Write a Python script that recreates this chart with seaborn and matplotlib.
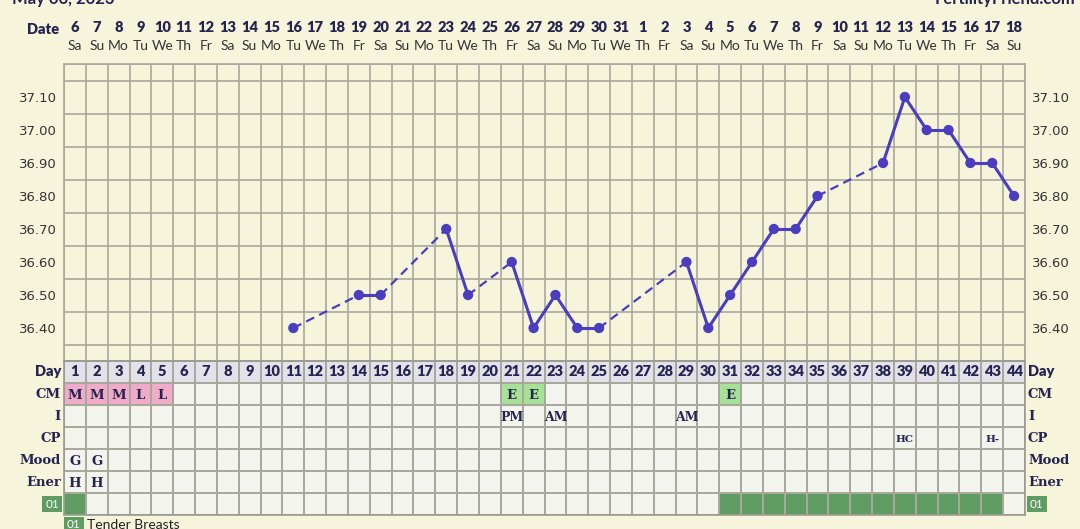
import numpy as np
import pandas as pd
import matplotlib
matplotlib.use('Agg')
import matplotlib.pyplot as plt
import matplotlib.transforms as mtransforms
from matplotlib.colors import ListedColormap
import seaborn as sns

# chart values
dates = [6, 7, 8, 9, 10, 11, 12, 13, 14, 15, 16, 17, 18, 19, 20, 21, 22, 23, 24, 25,
         26, 27, 28, 29, 30, 31, 1, 2, 3, 4, 5, 6, 7, 8, 9, 10, 11, 12, 13, 14, 15, 16, 17, 18]
weekdays = ['Sa', 'Su', 'Mo', 'Tu', 'We', 'Th', 'Fr', 'Sa', 'Su', 'Mo', 'Tu', 'We', 'Th', 'Fr',
            'Sa', 'Su', 'Mo', 'Tu', 'We', 'Th', 'Fr', 'Sa', 'Su', 'Mo', 'Tu', 'We', 'Th', 'Fr',
            'Sa', 'Su', 'Mo', 'Tu', 'We', 'Th', 'Fr', 'Sa', 'Su', 'Mo', 'Tu', 'We', 'Th', 'Fr',
            'Sa', 'Su']
cycle_days = list(range(1, 45))

temp_days = [11, 14, 15, 18, 19, 21, 22, 23, 24, 25, 29, 30, 31, 32, 33, 34, 35, 38, 39, 40, 41, 42, 43, 44]
temps = [36.40, 36.50, 36.50, 36.70, 36.50, 36.60, 36.40, 36.50, 36.40, 36.40, 36.60, 36.40,
         36.50, 36.60, 36.70, 36.70, 36.80, 36.90, 37.10, 37.00, 37.00, 36.90, 36.90, 36.80]
temp_ticks = [36.40, 36.50, 36.60, 36.70, 36.80, 36.90, 37.00, 37.10]

cm_days = [1, 2, 3, 4, 5, 21, 22, 31]
cm_vals = ['M', 'M', 'M', 'L', 'L', 'E', 'E', 'E']
int_days = [21, 23, 29]
int_vals = ['PM', 'AM', 'AM']
cp_days = [39, 43]
cp_vals = ['HC', 'H-']
mood_days = [1, 2]
mood_vals = ['G', 'G']
ener_days = [1, 2]
ener_vals = ['H', 'H']
symptom_days = [1, 31, 32, 33, 34, 35, 36, 37, 38, 39, 40, 41, 42, 43]

row_labels = ['Day', 'CM', 'I', 'CP', 'Mood', 'Ener']

BG = '#f7f4dc'
NAVY = '#25234f'
GRID = '#a9a89c'
LINE = '#4a3dbf'
DARKGREEN = '#5f9c62'

W, H = 1080, 529
fig = plt.figure(figsize=(W / 100, H / 100), dpi=100, facecolor=BG)
sans = 'Lato'
serif = 'DejaVu Serif'

# ---------------- temperature chart ----------------
ax = fig.add_axes([64 / W, 1 - 361 / H, 961 / W, 297 / H])
ax.set_facecolor(BG)
ax.set_xlim(0.5, 44.5)
ax.set_ylim(36.30, 37.20)
ax.set_xticks(np.arange(0.5, 45, 1), minor=True)
ax.set_xticks([])
ax.set_yticks(np.arange(36.30, 37.21, 0.05), minor=True)
ax.set_yticks(temp_ticks)
ax.set_yticklabels([f'{t:.2f}' for t in temp_ticks])
ax.grid(which='minor', color=GRID, linewidth=1.2)
ax.tick_params(which='both', length=0, labelleft=True, labelright=True,
               labelsize=9.5, labelcolor='#333333', pad=5)
for s in ax.spines.values():
    s.set_color(GRID)
    s.set_linewidth(1.2)

# segments: solid between consecutive days, dashed across gaps
rows = []
for i in range(len(temp_days) - 1):
    kind = 'solid' if temp_days[i + 1] - temp_days[i] == 1 else 'gap'
    rows.append((i, kind, temp_days[i], temps[i]))
    rows.append((i, kind, temp_days[i + 1], temps[i + 1]))
seg_df = pd.DataFrame(rows, columns=['seg', 'kind', 'day', 'temp'])
sns.lineplot(data=seg_df[seg_df.kind == 'solid'], x='day', y='temp', units='seg',
             estimator=None, color=LINE, linewidth=2.2, ax=ax, legend=False)
sns.lineplot(data=seg_df[seg_df.kind == 'gap'], x='day', y='temp', units='seg',
             estimator=None, color=LINE, linewidth=1.6, ax=ax, legend=False,
             dashes=False, linestyle=(0, (4, 2.5)))
pts = pd.DataFrame({'day': temp_days, 'temp': temps})
sns.scatterplot(data=pts, x='day', y='temp', color=LINE, s=55, edgecolor='none',
                ax=ax, zorder=5, legend=False)
ax.set_xlabel('')
ax.set_ylabel('')

# date and weekday header
tr = mtransforms.blended_transform_factory(ax.transData, fig.transFigure)
for d, dt, wd in zip(cycle_days, dates, weekdays):
    ax.text(d, 1 - 28 / H, str(dt), transform=tr, ha='center', va='center',
            fontsize=10.5, fontweight='heavy', color=NAVY, family=sans)
    ax.text(d, 1 - 46 / H, wd, transform=tr, ha='center', va='center',
            fontsize=10, color='#333333', family=sans)
fig.text(59 / W, 1 - 29 / H, 'Date', ha='right', va='center', fontsize=10.5,
         fontweight='heavy', color=NAVY, family=sans)
fig.text(12 / W, 1 - 7 / H, 'May 06, 2023', ha='left', va='bottom', fontsize=12,
         fontweight='bold', color=NAVY, family=sans)
fig.text(1075 / W, 1 - 7 / H, 'FertilityFriend.com', ha='right', va='bottom', fontsize=12,
         fontweight='bold', color=NAVY, family=sans)

# ---------------- observation table ----------------
n_rows = 7
codes = np.zeros((n_rows, len(cycle_days)))
codes[0, :] = 1
for d, v in zip(cm_days, cm_vals):
    codes[1, d - 1] = 2 if v in ('M', 'L') else 3
for d in symptom_days:
    codes[6, d - 1] = 4
cell_colors = ['#f4f4ee', '#e3e2ea', '#f0abc8', '#a7e196', DARKGREEN]

tax = fig.add_axes([64 / W, 1 - 515 / H, 961 / W, 154 / H])
sns.heatmap(codes, cmap=ListedColormap(cell_colors), vmin=-0.5, vmax=4.5, cbar=False,
            linewidths=1.2, linecolor=GRID, xticklabels=False, yticklabels=False, ax=tax)
for s in tax.spines.values():
    s.set_visible(True)
    s.set_color('#9a9a90')
    s.set_linewidth(1.2)

for d in cycle_days:
    tax.text(d - 0.5, 0.5, str(d), ha='center', va='center', fontsize=10.5,
             fontweight='heavy', color=NAVY, family=sans)

def put_row(row, days, vals, size=9.5):
    for d, v in zip(days, vals):
        tax.text(d - 0.5, row + 0.55, v, ha='center', va='center', fontsize=size,
                 fontweight='bold', color=NAVY, family=serif)

put_row(1, cm_days, cm_vals)
put_row(2, int_days, int_vals, 9)
put_row(3, cp_days, cp_vals, 7.5)
put_row(4, mood_days, mood_vals)
put_row(5, ener_days, ener_vals)

trow = mtransforms.blended_transform_factory(fig.transFigure, tax.transData)
for r, lab in enumerate(row_labels):
    fam = sans if lab == 'Day' else serif
    sz = 10.5 if lab == 'Day' else 9.5
    fw = 'heavy' if lab == 'Day' else 'bold'
    fig.text(61 / W, r + 0.5, lab, transform=trow, ha='right', va='center',
             fontsize=sz, fontweight=fw, color=NAVY, family=fam)
    fig.text(1028 / W, r + 0.5, lab, transform=trow, ha='left', va='center',
             fontsize=sz, fontweight=fw, color=NAVY, family=fam)
box = dict(boxstyle='square,pad=0.25', facecolor=DARKGREEN, edgecolor='none')
fig.text(59 / W, 6.5, '01', transform=trow, ha='right', va='center', fontsize=8.5,
         color='white', family=sans, bbox=box)
fig.text(1030 / W, 6.5, '01', transform=trow, ha='left', va='center', fontsize=8.5,
         color='white', family=sans, bbox=box)

# symptom legend (cut off at bottom)
fig.text(67 / W, 1 - 525 / H, '01', ha='left', va='center', fontsize=8.5,
         color='white', family=sans, bbox=box)
fig.text(87 / W, 1 - 525 / H, 'Tender Breasts', ha='left', va='center', fontsize=10,
         color='#222222', family=sans)

fig.savefig('out.png', dpi=100, facecolor=BG)
